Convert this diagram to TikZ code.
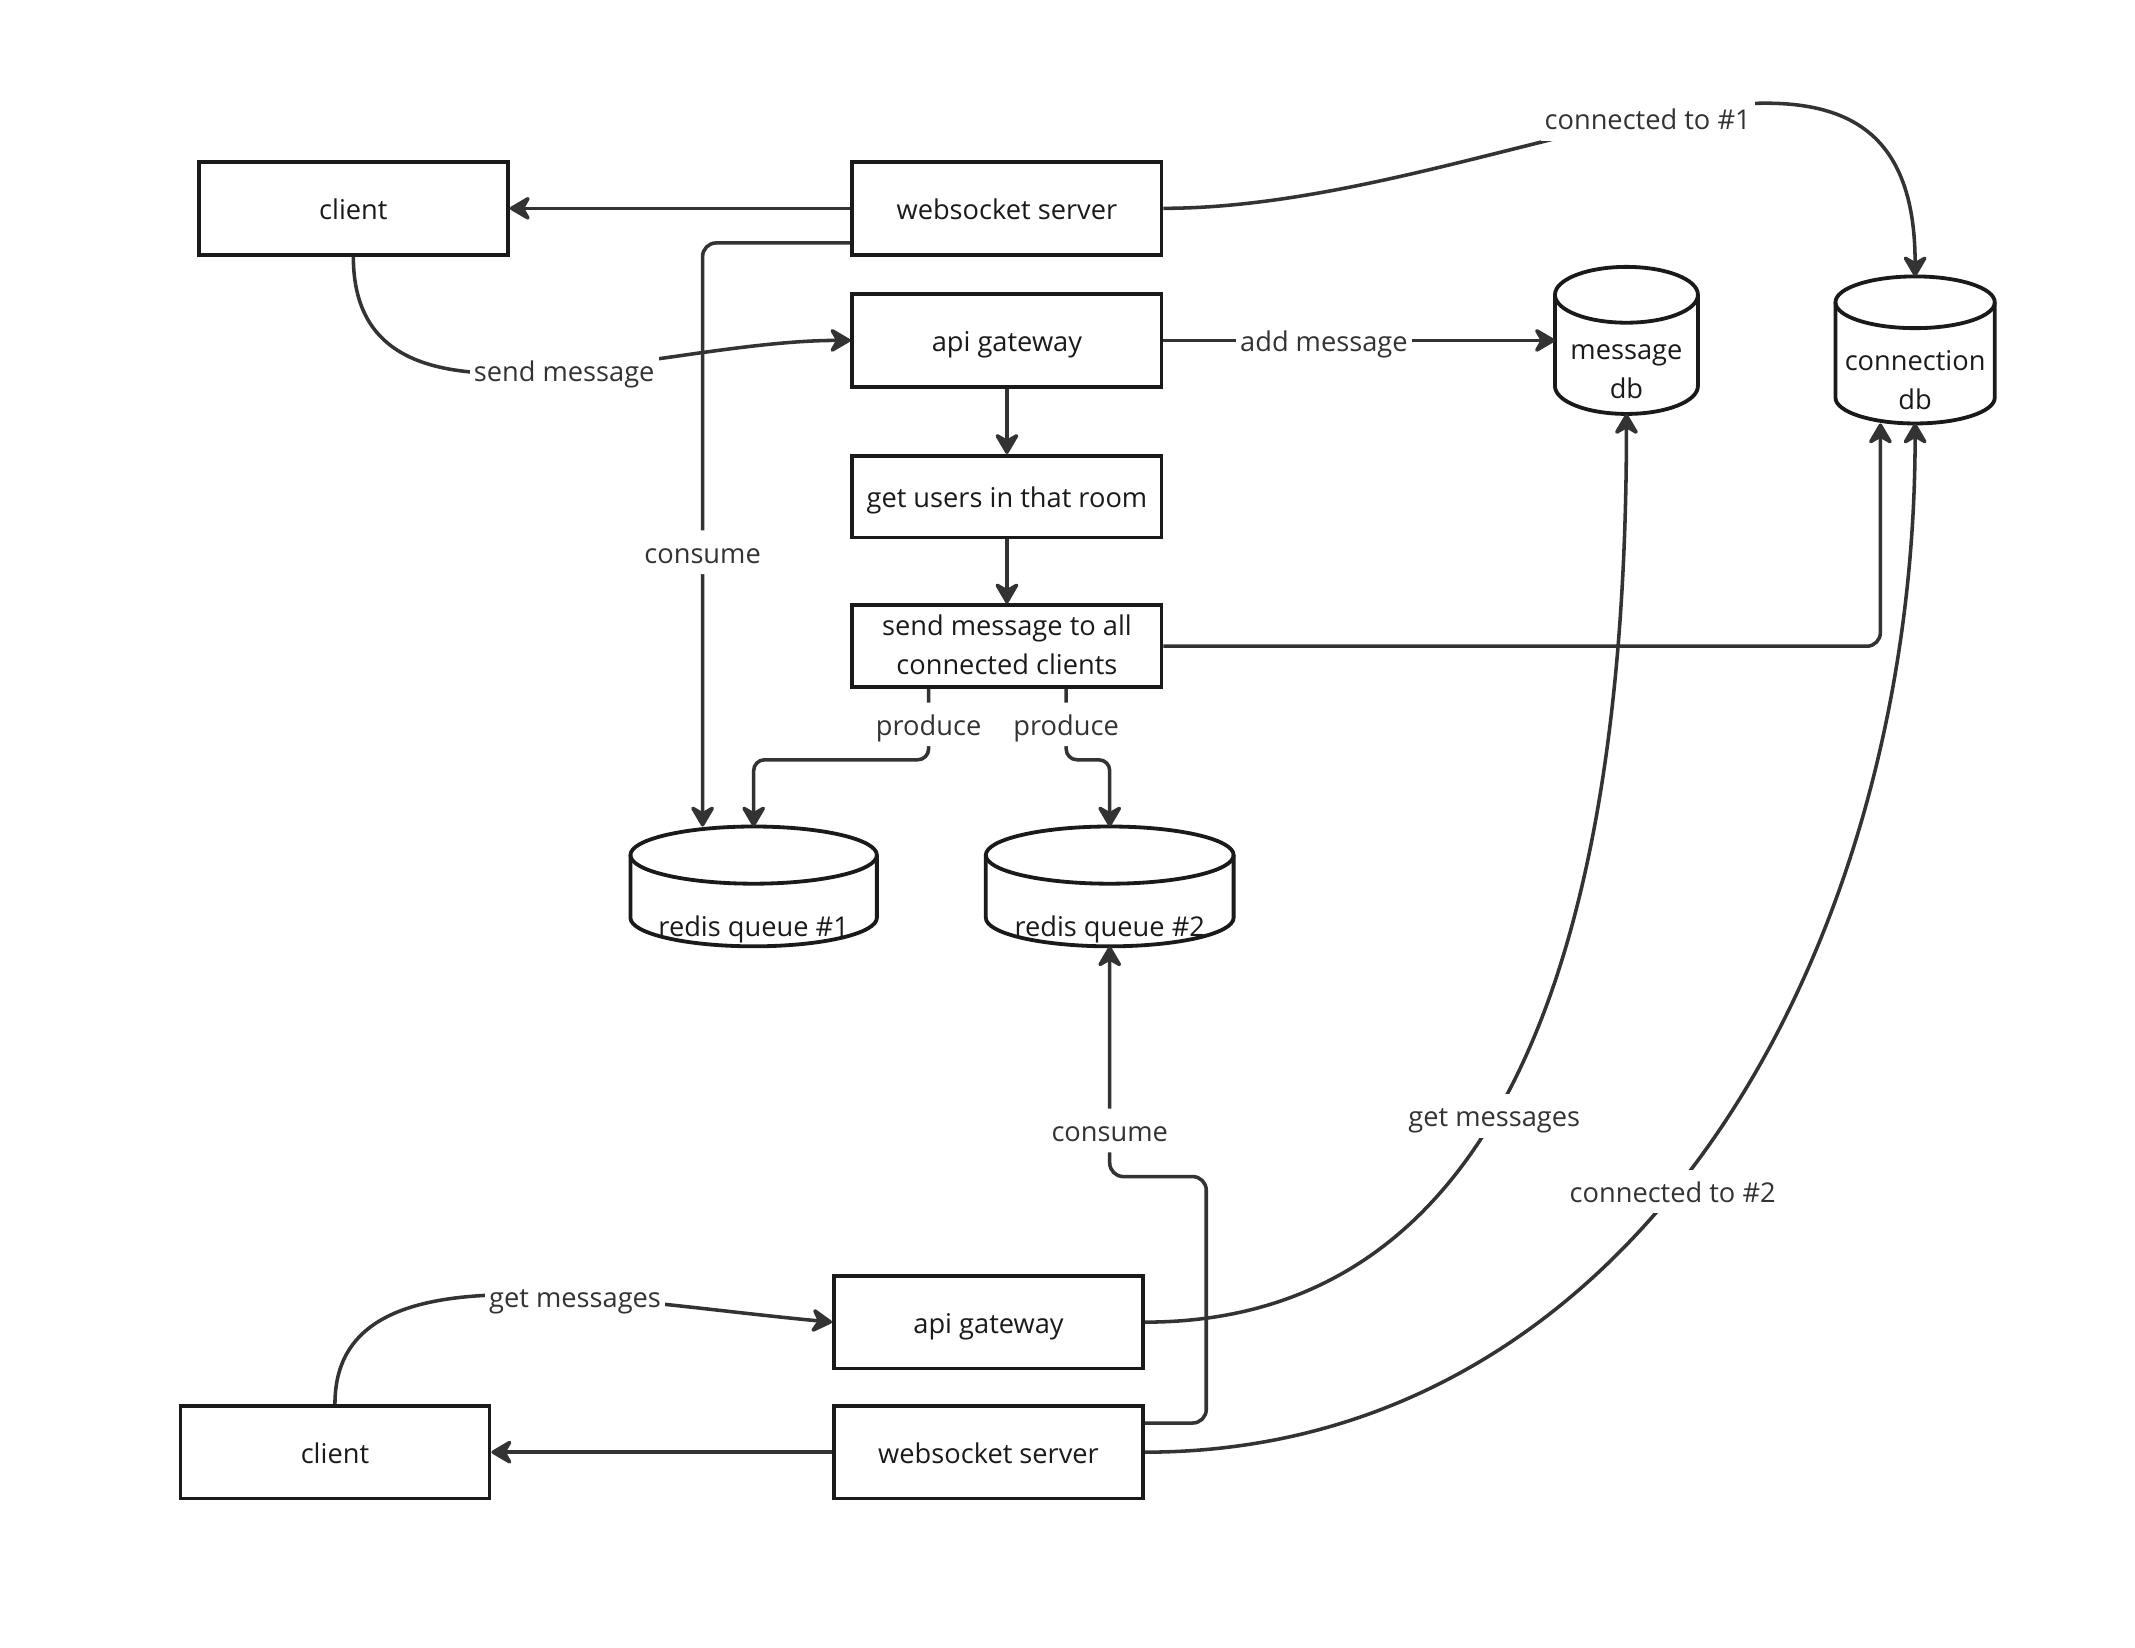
\documentclass[tikz,border=0pt]{standalone}
\usepackage{fontspec}
\setmainfont{Open Sans}
\usetikzlibrary{arrows.meta,positioning}

\definecolor{ink}{HTML}{1A1A1A}
\definecolor{wire}{HTML}{333333}

% cylinder outline round a db node: name, half width, cap radius
\newcommand\dbcyl[3]{%
  \draw[dbline] ([yshift=-#3]#1.north west) -- ([yshift=#3]#1.south west)
    arc[start angle=180,end angle=360,x radius=#2,y radius=#3] -- ([yshift=-#3]#1.north east);
  \draw[dbline] ([yshift=-#3]#1.north) ellipse[x radius=#2,y radius=#3];}

\begin{document}
\begin{tikzpicture}[x=1pt,y=-1pt,>={Stealth[length=18pt,width=21pt,inset=6pt,round]},node distance=47pt,
    every node/.style={font=\fontsize{20}{29}\selectfont,text=ink,align=center},
    tl/.style={text height=21pt,text depth=5pt},
    box/.style={draw=ink,line width=2.8pt,minimum width=227pt,minimum height=68pt,inner sep=2pt},
    db/.style={inner sep=0pt,outer sep=0pt},
    dbline/.style={draw=ink,line width=2.8pt},
    lbl/.style={fill=white,text=wire,inner sep=3pt,tl},
    conn/.style={->,draw=wire,line width=2.6pt}]
  \useasboundingbox (0,0) rectangle (1568,1210);
  \node[box,tl] (c1) at (259.5,153) {client};
  \node[box,tl] (ws1) at (739.5,153) {websocket server};
  \node[box,tl] (ag1) at (739.5,250) {api gateway};
  \node[box,tl,minimum height=60pt] (gu) [below=48pt of ag1] {get users in that room};
  \node[box,minimum height=60pt,text depth=2pt] (sm) [below=of gu] {send message to all\\connected clients};
  \node[db,minimum width=105pt,minimum height=108pt,label={[yshift=-23pt]center:message\\db}] (mdb) at (1194.5,250) {};
  \node[db,minimum width=117pt,minimum height=108pt,label={[yshift=-22pt]center:connection\\db}] (cdb) at (1406.5,257) {};
  \node[db,minimum width=181pt,minimum height=88pt,label={[tl,yshift=-29pt]center:redis queue \#1}] (rq1) at (553.5,651) {};
  \node[db,minimum width=182pt,minimum height=88pt,label={[tl,yshift=-29pt]center:redis queue \#2}] (rq2) at (815,651) {};
  \node[box,tl] (ag2) at (726,971) {api gateway};
  \node[box,tl] (ws2) at (726,1066.5) {websocket server};
  \node[box,tl] (c2) at (246,1066.5) {client};
  \dbcyl{mdb}{52.5pt}{20.5pt}
  \dbcyl{cdb}{58.5pt}{19pt}
  \dbcyl{rq1}{90.5pt}{21pt}
  \dbcyl{rq2}{91pt}{21pt}

  \draw[conn] (ws1.west) -- (c1.east);
  \draw[conn,rounded corners=10pt] ([yshift=10pt]ws1.south west) -| ([xshift=-37.5pt]rq1.north) node[lbl,pos=0.765]{consume};
  \draw[conn] (c1.south) .. controls +(0,146) and +(-146,0) .. (ag1.west) node[lbl,pos=0.56]{send message};
  \draw[conn] (ws1.east) .. controls +(247,0) and +(0,-248) .. (cdb.north) node[lbl,pos=0.48]{connected to \#1};
  \draw[conn] (ag1.east) -- node[lbl,pos=0.41]{add message} (mdb.west);
  \draw[conn] (ag1) -- (gu);
  \draw[conn] (gu) -- (sm);
  \draw[conn,rounded corners=10pt] (sm.east) -| ([xshift=-25.5pt]cdb.south);
  \draw[conn,rounded corners=8pt] ([xshift=-57.5pt]sm.south) -- node[lbl]{produce} ++(0,52) -| (rq1.north);
  \draw[conn,rounded corners=8pt] ([xshift=43.5pt]sm.south) -- node[lbl]{produce} ++(0,52) -| (rq2.north);
  \draw[conn,rounded corners=10pt] ([yshift=-14pt]ws2.north east) -| ++(45,-181) -| (rq2.south) node[lbl,pos=0.6]{consume};
  \draw[conn] (ag2.east) .. controls +(260,0) and +(0,396) .. (mdb.south) node[lbl,pos=0.45]{get messages};
  \draw[conn] (ws2.east) .. controls +(360,0) and +(0,389) .. (cdb.south) node[lbl,pos=0.45]{connected to \#2};
  \draw[conn] (c2.north) .. controls +(0,-117) and +(-172,-16) .. (ag2.west) node[lbl,pos=0.63]{get messages};
  \draw[conn] (ws2.west) -- (c2.east);
\end{tikzpicture}
\end{document}
